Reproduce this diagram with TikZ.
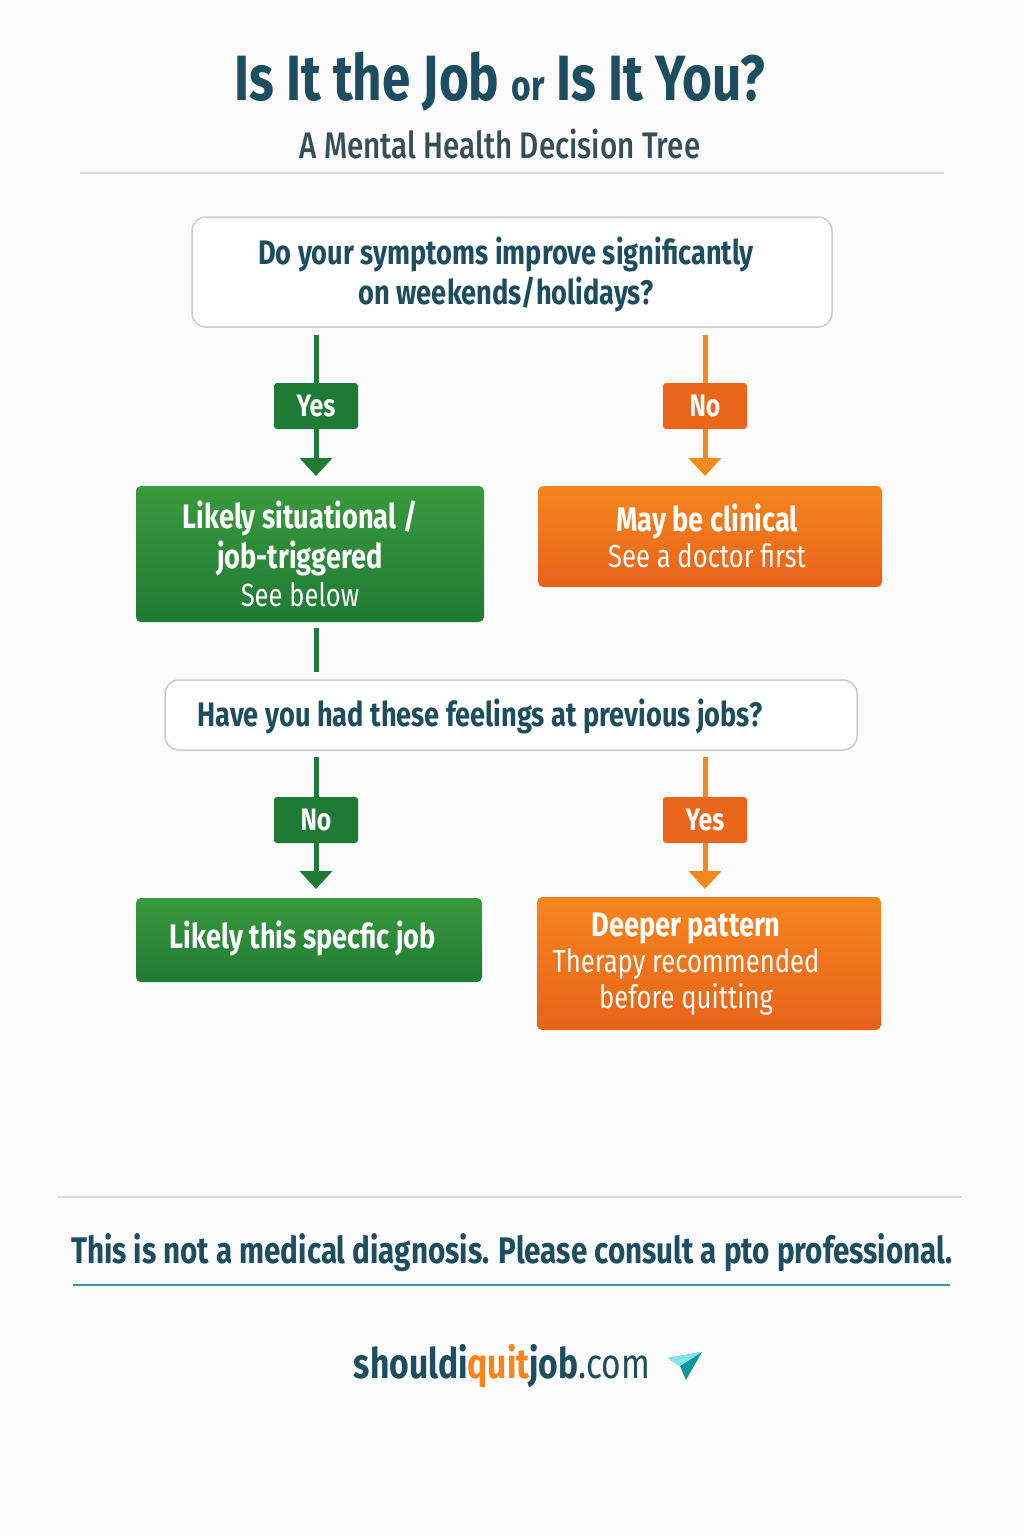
\documentclass[tikz,border=0pt]{standalone}
\usepackage{fontspec}
\setmainfont{Fira Sans}[FakeStretch=0.8]
\usetikzlibrary{arrows.meta}
\definecolor{teal}{HTML}{1D4E5F}
\definecolor{gtop}{HTML}{3A9A3E}
\definecolor{gbot}{HTML}{1F7A35}
\definecolor{otop}{HTML}{F5861E}
\definecolor{obot}{HTML}{E8621A}
\definecolor{gline}{HTML}{1F7A35}
\definecolor{oline}{HTML}{F08A1C}
\begin{document}
\begin{tikzpicture}[x=1pt,y=-1pt,
 qbox/.style={draw=gray!40,line width=1.5pt,fill=white,rounded corners=14pt},
 gbox/.style={rounded corners=5pt,top color=gtop,bottom color=gbot,draw=none},
 obox/.style={rounded corners=5pt,top color=otop,bottom color=obot,draw=none},
 txt/.style={text=teal,font=\fontsize{34}{40}\selectfont\bfseries,align=center},
 wtxt/.style={text=white,font=\fontsize{34}{40}\selectfont\bfseries,align=center},
 gl/.style={gline,line width=5pt},
 ol/.style={oline,line width=5pt},
 garr/.style={gline,line width=5pt,-{Triangle[length=18pt,width=32pt]}},
 oarr/.style={oline,line width=5pt,-{Triangle[length=18pt,width=32pt]}},
 lab/.style={rounded corners=3pt,font=\fontsize{31}{34}\selectfont\bfseries,text=white,minimum width=84pt,minimum height=46pt}]
\fill[white!97!gray] (0,0) rectangle (1024,1536);
\useasboundingbox (0,0) rectangle (1024,1536);
\node[text=teal,font=\fontsize{64}{70}\selectfont\bfseries] (title) at (500,82) {Is It the Job {\fontsize{42}{50}\selectfont or} Is It You?};
\node[text=gray!40!teal!80!black,font=\fontsize{37}{40}\selectfont\bfseries\mdseries] (sub) at (500,144) {\fontspec{Fira Sans Medium}[FakeStretch=0.8]A Mental Health Decision Tree};
\draw[gray!30,line width=1.2pt] (80,173) coordinate (r1a) -- (944,173) coordinate (r1b);
% Q1
\draw[qbox] (192,217) rectangle (832,327);
\node[txt] (q1) at (506,274) {Do your symptoms improve significantly\\on weekends/holidays?};
\coordinate (q1l) at (316,335); \coordinate (q1r) at (705,335);
\node[lab,fill=gbot] (yes1) at (316,406) {Yes};
\node[lab,fill=obot!90!otop] (no1) at (705,406) {No};
\draw[gl] (q1l) -- (yes1.north);
\draw[ol] (q1r) -- (no1.north);
\draw[gbox] (136,486) rectangle (484,622);
\node[wtxt] (g1) at (300,554) {Likely situational /\\job-triggered\\[-2pt]{\mdseries\fontsize{32}{36}\selectfont See below}};
\coordinate (g1t) at (316,476);
\draw[garr] (yes1.south) -- (g1t);
\draw[obox] (538,486) rectangle (882,587);
\node[wtxt] (o1) at (707,536) {May be clinical\\[-4pt]{\mdseries\fontsize{32}{36}\selectfont See a doctor first}};
\coordinate (o1t) at (705,476);
\draw[oarr] (no1.south) -- (o1t);
% Q2
\draw[qbox] (165,680) rectangle (857,750);
\node[txt] (q2) at (480,716) {Have you had these feelings at previous jobs?};
\coordinate (g1b) at (316,628); \coordinate (q2t) at (316,672);
\draw[gl] (g1b) -- (q2t);
\coordinate (q2l) at (316,757); \coordinate (q2r) at (705,757);
\node[lab,fill=gbot] (no2) at (316,820) {No};
\node[lab,fill=obot!90!otop] (yes2) at (705,820) {Yes};
\draw[gl] (q2l) -- (no2.north);
\draw[ol] (q2r) -- (yes2.north);
\draw[gbox] (136,898) rectangle (482,982);
\node[wtxt] (g2) at (303,938) {Likely this specfic job};
\coordinate (g2t) at (316,889);
\draw[garr] (no2.south) -- (g2t);
\draw[obox] (537,897) rectangle (881,1030);
\node[wtxt] (o2) at (686,964) {Deeper pattern\\[-4pt]{\mdseries\fontsize{32}{36}\selectfont Therapy recommended}\\[-4pt]{\mdseries\fontsize{32}{36}\selectfont before quitting}};
\coordinate (o2t) at (705,889);
\draw[oarr] (yes2.south) -- (o2t);
% footer
\draw[gray!30,line width=1.2pt] (58,1197) coordinate (r2a) -- (962,1197) coordinate (r2b);
\node[text=teal,font=\fontsize{37}{40}\selectfont\bfseries] (disc) at (512,1253) {This is not a medical diagnosis. Please consult a pto professional.};
\draw[teal!50!cyan!60!gray,line width=2.5pt] (73,1285) coordinate (ua) -- (950,1285) coordinate (ub);
\node[font=\fontsize{42}{44}\selectfont\bfseries,text=teal] (logo) at (502,1366) {shouldi\textcolor{otop}{quit}job{\mdseries.com}};
\fill[teal!60!cyan] (668,1358) -- (702,1352) -- (686,1380) -- (680,1366) -- cycle;
\fill[teal!30!cyan!50!white] (668,1358) -- (680,1366) -- (702,1352) -- cycle;
\end{tikzpicture}
\end{document}
